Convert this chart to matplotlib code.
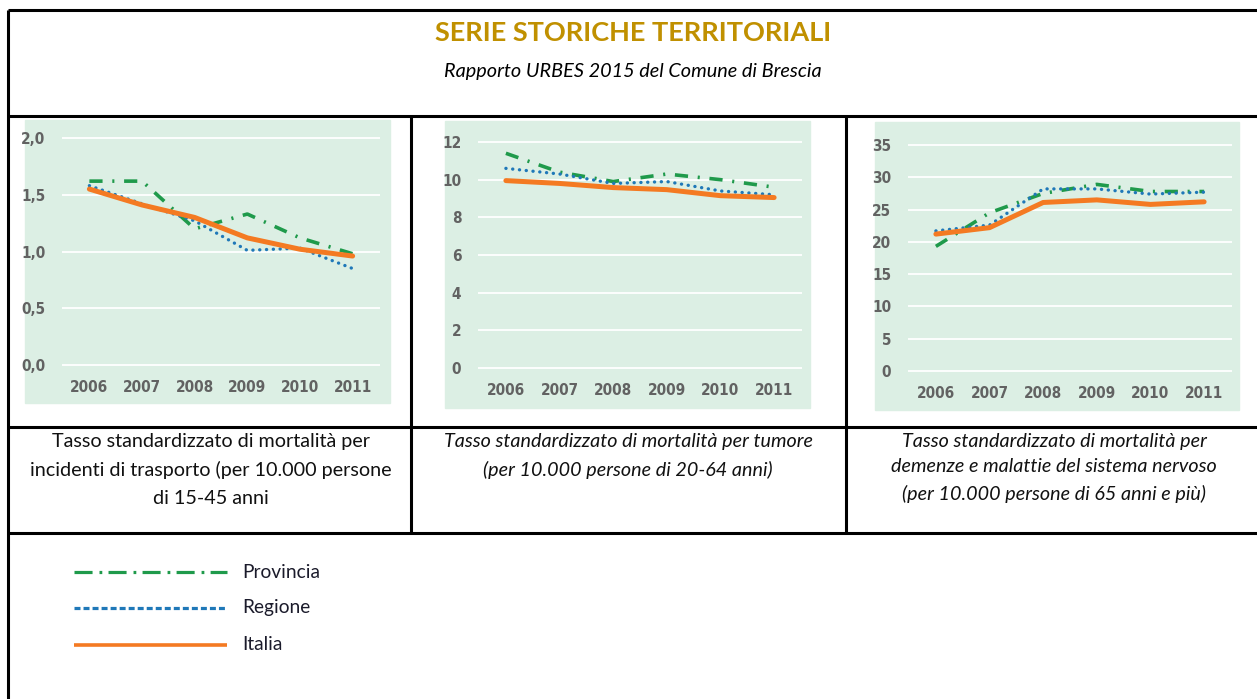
import numpy as np
import matplotlib
matplotlib.use("Agg")
import matplotlib.pyplot as plt
from matplotlib.patches import Rectangle
from matplotlib import font_manager

plt.rcParams['lines.scale_dashes'] = False

# Data
years = [2006, 2007, 2008, 2009, 2010, 2011]

trasporto_provincia = [1.62, 1.62, 1.20, 1.33, 1.12, 0.98]
trasporto_regione = [1.58, 1.42, 1.27, 1.01, 1.03, 0.85]
trasporto_italia = [1.55, 1.41, 1.30, 1.12, 1.02, 0.96]

tumore_provincia = [11.4, 10.4, 9.9, 10.3, 10.0, 9.6]
tumore_regione = [10.6, 10.3, 9.8, 9.9, 9.4, 9.2]
tumore_italia = [9.95, 9.8, 9.58, 9.47, 9.15, 9.05]

demenze_provincia = [19.3, 24.5, 27.5, 28.9, 27.8, 27.8]
demenze_regione = [21.7, 22.6, 28.2, 28.2, 27.4, 27.7]
demenze_italia = [21.2, 22.2, 26.1, 26.5, 25.8, 26.2]

series_names = ['Provincia', 'Regione', 'Italia']

title = 'SERIE STORICHE TERRITORIALI'
subtitle = 'Rapporto URBES 2015 del Comune di Brescia'
captions = [
    ['Tasso standardizzato di mortalità per',
     'incidenti di trasporto (per 10.000 persone',
     'di 15-45 anni'],
    ['Tasso standardizzato di mortalità per tumore',
     '(per 10.000 persone di 20-64 anni)'],
    ['Tasso standardizzato di mortalità per',
     'demenze e malattie del sistema nervoso',
     '(per 10.000 persone di 65 anni e più)'],
]

GREEN = '#1f9a4b'
BLUE = '#1f78b8'
ORANGE = '#f47a22'
BG = '#dcefe4'
TICK = '#626262'
TEXTFONT = ['Lato', 'DejaVu Sans']

# condensed font for the tick labels, if one is there
fonts = font_manager.fontManager.ttflist
names = {f.name for f in fonts}
tick_stretch = 'normal'
if 'Liberation Sans Narrow' in names:
    TICKFONT = ['Liberation Sans Narrow', 'DejaVu Sans']
    tick_size = 12
elif any(f.name == 'DejaVu Sans' and f.stretch == 'condensed' for f in fonts):
    TICKFONT = ['DejaVu Sans']
    tick_stretch = 'condensed'
    tick_size = 11
else:
    TICKFONT = ['Roboto', 'DejaVu Sans']
    tick_size = 11

W, H = 1257, 699
fig = plt.figure(figsize=(W / 100, H / 100), dpi=100)


def box(x0, y0, x1, y1):
    return [x0 / W, 1 - y1 / H, (x1 - x0) / W, (y1 - y0) / H]


# overlay in pixel coordinates for borders and texts
ov = fig.add_axes([0, 0, 1, 1])
ov.set_xlim(0, W)
ov.set_ylim(H, 0)
ov.axis('off')

blw = 2.2
for yy in [10, 116, 427, 533]:
    ov.plot([8, W], [yy, yy], color='black', lw=blw, solid_capstyle='butt')
ov.plot([8, 8], [10, H], color='black', lw=blw, solid_capstyle='butt')
for xx in [411, 846]:
    ov.plot([xx, xx], [116, 533], color='black', lw=blw, solid_capstyle='butt')

ov.text(633, 33, title, ha='center', va='center', fontsize=19.5, fontweight='bold',
        color='#c09000', family=TEXTFONT)
ov.text(633, 72, subtitle, ha='center', va='center', fontsize=14.3, style='italic',
        color='black', family=TEXTFONT)

cap_x = [211, 628, 1054]
cap_y = [[441, 470, 499], [441, 470], [441, 467, 494]]
cap_style = ['normal', 'italic', 'italic']
for cx, lines, ys, st in zip(cap_x, captions, cap_y, cap_style):
    for line, yy in zip(lines, ys):
        ov.text(cx, yy, line, ha='center', va='center', fontsize=14.2, style=st,
                color='#111111', family=TEXTFONT)

# panels: background box, gridline box (x0, x1, y_top, y_bottom)
panels = [
    dict(bg=(25, 120, 390, 403), grid=(62, 380, 138, 365), ymax=2.0, step=0.5, dec=True,
         data=(trasporto_provincia, trasporto_regione, trasporto_italia)),
    dict(bg=(445, 121, 810, 408), grid=(478, 802, 142, 368), ymax=12, step=2, dec=False,
         data=(tumore_provincia, tumore_regione, tumore_italia)),
    dict(bg=(875, 122, 1239, 410), grid=(908, 1232, 145, 371), ymax=35, step=5, dec=False,
         data=(demenze_provincia, demenze_regione, demenze_italia)),
]

for p in panels:
    bx0, by0, bx1, by1 = p['bg']
    ov.add_patch(Rectangle((bx0, by0), bx1 - bx0, by1 - by0, color=BG, zorder=0))
    gx0, gx1, gt, gb = p['grid']
    ext = 4
    u = p['ymax'] / (gb - gt)
    ax = fig.add_axes(box(gx0, gt - ext, gx1, gb + ext))
    ax.set_facecolor('none')
    ax.set_xlim(2005.48, 2011.52)
    ax.set_ylim(-ext * u, p['ymax'] + ext * u)
    for s in ax.spines.values():
        s.set_visible(False)
    ticks = np.arange(0, p['ymax'] + p['step'] / 2, p['step'])
    ax.set_yticks(ticks)
    if p['dec']:
        ax.set_yticklabels([f'{t:.1f}'.replace('.', ',') for t in ticks])
    else:
        ax.set_yticklabels([f'{t:.0f}' for t in ticks])
    ax.set_xticks(years)
    ax.set_xticklabels([str(y) for y in years])
    ax.yaxis.grid(True, color='white', lw=1.3)
    ax.set_axisbelow(True)
    ax.tick_params(length=0, labelsize=tick_size, labelcolor=TICK)
    ax.tick_params(axis='y', pad=12)
    ax.tick_params(axis='x', pad=8)
    for lab in ax.get_xticklabels() + ax.get_yticklabels():
        lab.set_family(TICKFONT)
        lab.set_fontweight('bold')
        lab.set_fontstretch(tick_stretch)

    prov, reg, ita = p['data']
    ax.plot(years, prov, color=GREEN, lw=2.6, dashes=(9.5, 7, 1.5, 7),
            dash_capstyle='butt', clip_on=False, zorder=3)
    ax.plot(years, reg, color=BLUE, lw=2.4, dashes=(0.1, 4.8),
            dash_capstyle='round', clip_on=False, zorder=3)
    ax.plot(years, ita, color=ORANGE, lw=3.6, solid_capstyle='round',
            solid_joinstyle='round', clip_on=False, zorder=4)

# legend
leg_y = [572, 608, 645]
ov.plot([74, 227], [leg_y[0]] * 2, color=GREEN, lw=2.3, dashes=(13, 5, 2, 4.5),
        dash_capstyle='butt')
ov.plot([74, 227], [leg_y[1]] * 2, color=BLUE, lw=2.3, dashes=(4.3, 2.2),
        dash_capstyle='butt')
ov.plot([74, 227], [leg_y[2]] * 2, color=ORANGE, lw=2.6, solid_capstyle='butt')
for yy, name in zip(leg_y, series_names):
    ov.text(242, yy, name, ha='left', va='center', fontsize=13.8, color='#1b1b2b',
            family=TEXTFONT)

fig.savefig('out.png', dpi=100)
